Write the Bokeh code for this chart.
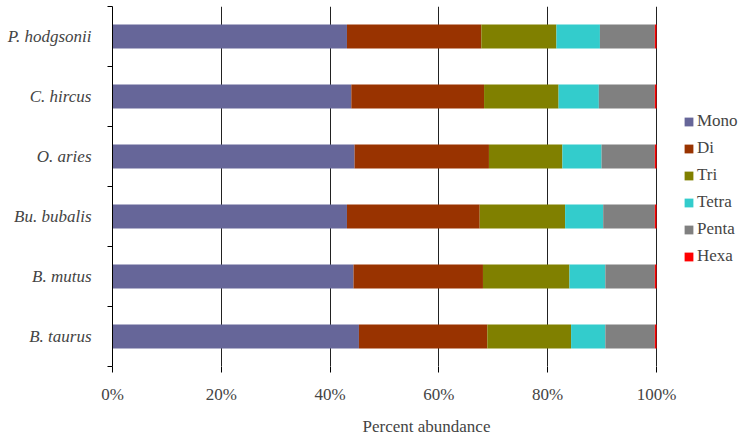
from bokeh.plotting import figure
from bokeh.models import (ColumnDataSource, Range1d, FixedTicker, PrintfTickFormatter,
                          Legend, LegendItem)
from bokeh.embed import file_html
from bokeh.resources import INLINE

# Species from bottom to top
species = ["B. taurus", "B. mutus", "Bu. bubalis", "O. aries", "C. hircus", "P. hodgsonii"]
mono  = [45.3, 44.3, 43.1, 44.5, 43.9, 43.1]
di    = [23.6, 23.8, 24.4, 24.7, 24.4, 24.7]
tri   = [15.4, 15.9, 15.7, 13.5, 13.7, 13.8]
tetra = [6.3, 6.6, 7.0, 7.2, 7.4, 8.0]
penta = [9.1, 9.1, 9.5, 9.8, 10.3, 10.1]
hexa  = [0.3, 0.3, 0.3, 0.3, 0.3, 0.3]
series = ["Mono", "Di", "Tri", "Tetra", "Penta", "Hexa"]
colors = ["#666699", "#993300", "#808000", "#33CCCC", "#808080", "#FF0000"]
x_ticks = [0, 20, 40, 60, 80, 100]

FONT = "Liberation Serif"

# layout: the 0-100 % scale spans 544 px; the frame is widened to host the legend
SCALE_PX = 544
FRAME_W = 628
x_end = 100.0 * FRAME_W / SCALE_PX

ypos = [i + 0.5 for i in range(len(species))]
source = ColumnDataSource(dict(y=ypos, Mono=mono, Di=di, Tri=tri, Tetra=tetra,
                               Penta=penta, Hexa=hexa))

p = figure(frame_width=FRAME_W, frame_height=360, output_backend="svg",
           toolbar_location=None,
           x_range=Range1d(0, x_end), y_range=Range1d(0, len(species)),
           min_border_left=112, min_border_right=0, min_border_top=6,
           min_border_bottom=66)
p.outline_line_color = None

renderers = p.hbar_stack(series, y="y", height=0.4, color=colors, line_color=None,
                         source=source)

# x axis
p.xaxis.ticker = FixedTicker(ticks=x_ticks)
p.xaxis.formatter = PrintfTickFormatter(format="%d%%")
p.xaxis.axis_label = "Percent abundance"
p.xaxis.axis_label_text_font = FONT
p.xaxis.axis_label_text_font_style = "normal"
p.xaxis.axis_label_text_font_size = "17px"
p.xaxis.axis_label_standoff = 10
p.xaxis.major_label_text_font = FONT
p.xaxis.major_label_text_font_size = "17px"
p.xaxis.major_label_standoff = 12
p.xaxis.major_tick_out = 6
p.xaxis.major_tick_in = 0
p.xaxis.minor_tick_out = 0
p.xaxis.minor_tick_in = 0
p.xaxis.axis_line_color = None
p.xaxis.major_tick_line_color = "black"

# y axis: labels at band centres, tick marks at band boundaries
p.yaxis.ticker = FixedTicker(ticks=ypos, minor_ticks=list(range(len(species) + 1)))
p.yaxis.major_label_overrides = {y: s for y, s in zip(ypos, species)}
p.yaxis.major_label_text_font = FONT
p.yaxis.major_label_text_font_style = "italic"
p.yaxis.major_label_text_font_size = "17px"
p.yaxis.major_label_standoff = 16
p.yaxis.major_tick_out = 0
p.yaxis.major_tick_in = 0
p.yaxis.minor_tick_out = 5
p.yaxis.minor_tick_in = 0
p.yaxis.minor_tick_line_color = "black"
p.yaxis.axis_line_color = "black"

p.xgrid.ticker = FixedTicker(ticks=x_ticks)
p.xgrid.grid_line_color = "#222222"
p.xgrid.grid_line_width = 1
p.ygrid.grid_line_color = None

items = [LegendItem(label=s, renderers=[r]) for s, r in zip(series, renderers)]
legend = Legend(items=items, location=(571, 100), orientation="vertical",
                glyph_width=11, glyph_height=11, label_standoff=3, spacing=7,
                label_text_font=FONT, label_text_font_size="17px",
                padding=0, margin=0, border_line_color=None,
                background_fill_alpha=0)
p.add_layout(legend, "center")

open("out.html", "w").write(file_html(p, INLINE))
